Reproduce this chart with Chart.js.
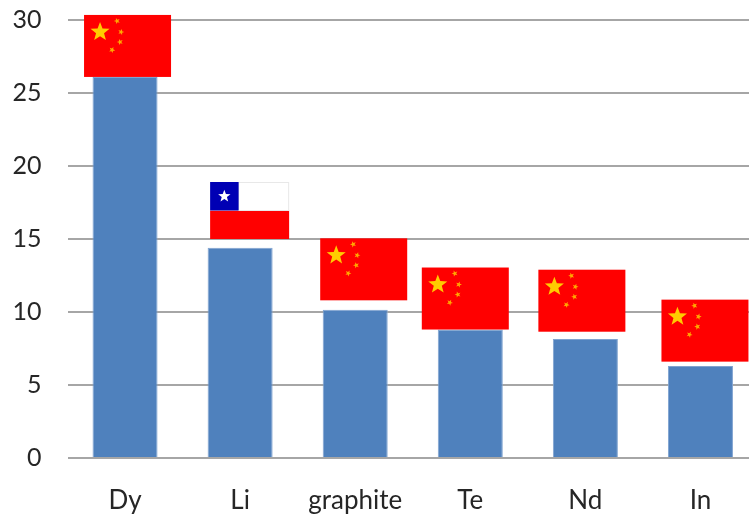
<!DOCTYPE html>
<html>
<head>
<meta charset="utf-8">
<title>Chart</title>
<script src="https://cdn.jsdelivr.net/npm/chart.js@4"></script>
<style>
  html, body { margin: 0; padding: 0; background: #fff; overflow: hidden; }
  #wrap { width: 749px; height: 515px; overflow: hidden; }
</style>
</head>
<body>
<div id="wrap"><canvas id="flagChart" width="758" height="515"></canvas></div>
<script>
const categories = ["Dy", "Li", "graphite", "Te", "Nd", "In"];
const values = [26.1, 14.4, 10.15, 8.8, 8.15, 6.3];
const flagCountries = ["cn", "cl", "cn", "cn", "cn", "cn"];
// bottom edge of each flag, in axis units
const flagBases = [26.1, 15.0, 10.8, 8.8, 8.65, 6.6];

const fontFamily = "Lato, 'Liberation Sans', sans-serif";
const flagShift = [2.5, 9.5, 8.5, -5, -3.5, 4.5];

function star(ctx, cx, cy, r, color, rot) {
  ctx.fillStyle = color;
  ctx.beginPath();
  for (let i = 0; i < 10; i++) {
    const rad = i % 2 ? r * 0.42 : r;
    const a = -Math.PI / 2 + (rot || 0) + i * Math.PI / 5;
    ctx.lineTo(cx + rad * Math.cos(a), cy + rad * Math.sin(a));
  }
  ctx.closePath();
  ctx.fill();
}

function drawChina(ctx, x, bottom) {
  const w = 87, h = 62, top = bottom - h, left = x - w / 2;
  ctx.fillStyle = "#ff0000";
  ctx.fillRect(left, top, w, h);
  ctx.save();
  ctx.filter = "blur(0.5px)";
  star(ctx, left + 16, top + 17, 10, "#ffcc00");
  star(ctx, left + 33, top + 6, 3.2, "#ffa800", 0.9);
  star(ctx, left + 37, top + 17, 3.2, "#ffa800", 0.3);
  star(ctx, left + 36, top + 27, 3.2, "#ffa800", -0.3);
  star(ctx, left + 28, top + 35, 3.2, "#ffa800", -0.8);
  ctx.restore();
}

function drawChile(ctx, x, bottom) {
  const w = 79, h = 57, top = bottom - h, left = x - w / 2;
  ctx.fillStyle = "#ff0000";
  ctx.fillRect(left, top + 28.5, w, h - 28.5);
  ctx.fillStyle = "#ffffff";
  ctx.fillRect(left, top, w, 28.5);
  ctx.strokeStyle = "#e8e8e8";
  ctx.lineWidth = 1;
  ctx.strokeRect(left + 28.5, top + 0.5, w - 29, 28);
  ctx.fillStyle = "#0000b4";
  ctx.fillRect(left, top, 28.5, 28.5);
  ctx.save();
  ctx.filter = "blur(0.6px)";
  star(ctx, left + 14.2, top + 14.2, 6.5, "#ffffff");
  ctx.restore();
}

const flagPlugin = {
  id: "flagPlugin",
  afterDatasetsDraw(chart) {
    const ctx = chart.ctx;
    const bars = chart.getDatasetMeta(0).data;
    ctx.save();
    bars.forEach((bar, i) => {
      const bottom = chart.scales.y.getPixelForValue(flagBases[i]);
      const x = bar.x + flagShift[i];
      if (flagCountries[i] === "cl") drawChile(ctx, x, bottom);
      else drawChina(ctx, x, bottom);
    });
    ctx.restore();
  }
};

new Chart(document.getElementById("flagChart"), {
  type: "bar",
  data: {
    labels: categories,
    datasets: [{
      data: values,
      backgroundColor: "#4f81bd",
      borderColor: "#7fa3d0",
      borderWidth: 1,
      barPercentage: 0.565,
      categoryPercentage: 1
    }]
  },
  plugins: [flagPlugin],
  options: {
    responsive: false,
    animation: false,
    devicePixelRatio: 1,
    layout: { padding: { top: 20, right: 0, left: 0, bottom: 0 } },
    plugins: { legend: { display: false }, tooltip: { enabled: false } },
    scales: {
      x: {
        grid: { display: false },
        border: { display: false },
        ticks: {
          color: "#262626",
          font: { family: fontFamily, size: 26 },
          padding: 19,
          maxRotation: 0,
          autoSkip: false
        },
        afterFit(scale) {
          scale.height = 57;
          scale.paddingLeft = 0;
          scale.paddingRight = 0;
        }
      },
      y: {
        min: 0,
        max: 30,
        grid: { color: "#a6a6a6", lineWidth: 2, drawTicks: false },
        border: { display: false },
        ticks: {
          stepSize: 5,
          color: "#262626",
          font: { family: fontFamily, size: 25 },
          padding: 26
        },
        afterFit(scale) {
          scale.width = 67.5;
          scale.paddingTop = 0;
          scale.paddingBottom = 0;
        }
      }
    }
  }
});
</script>
</body>
</html>
